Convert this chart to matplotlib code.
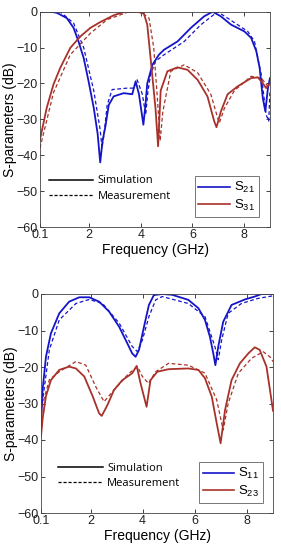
import matplotlib
matplotlib.use('Agg')
import matplotlib.pyplot as plt
from matplotlib.lines import Line2D

plt.rcParams['font.family'] = ['Liberation Sans', 'DejaVu Sans']
plt.rcParams['mathtext.fontset'] = 'custom'
plt.rcParams['mathtext.rm'] = 'Liberation Sans'
plt.rcParams['mathtext.it'] = 'Liberation Sans'

BLUE = '#1414c8'
RED = '#a8322a'

# ---- top panel: S21 / S31 ----
s21_sim_f = [0.1, 0.5, 0.75, 1.14, 1.4, 1.59, 1.79, 1.98, 2.18, 2.33, 2.43, 2.52, 2.63, 2.76, 2.95,
             3.34, 3.67, 3.8, 3.93, 4.03, 4.1, 4.18, 4.25, 4.45, 4.7, 4.9, 5.42, 5.94, 6.45, 6.78,
             7.1, 7.49, 8.01, 8.27, 8.47, 8.6, 8.72, 8.82, 8.92, 9.0]
s21_sim_db = [0, 0, -0.3, -1.8, -4.5, -8.3, -12.9, -19.4, -26.8, -34, -42, -36, -32, -26, -23.6,
              -22.7, -23, -19.4, -23, -28, -31.5, -26, -20, -14.8, -12, -10.6, -8.3, -4.5, -1.3, 0,
              -1.3, -3.6, -5.5, -7.3, -11, -15.7, -24, -27.8, -21.3, -18.5]
s21_meas_f = [0.1, 0.5, 0.88, 1.4, 1.79, 2.18, 2.43, 2.5, 2.58, 2.7, 2.89, 3.47, 3.73, 3.86, 4.06,
              4.19, 4.28, 4.38, 4.57, 4.9, 5.68, 6.33, 6.97, 7.36, 8.14, 8.4, 8.66, 8.85, 8.95, 9.0]
s21_meas_db = [0, 0, 0, -3.2, -10, -22, -33, -38, -34, -26, -21.7, -21.3, -21.3, -19, -23,
               -28.7, -22, -17.5, -13.8, -12, -8.3, -3.6, 0, -1.8, -5.5, -8.3, -17.5, -28.7, -30.5, -22]

s31_sim_f = [0.1, 0.36, 0.62, 0.88, 1.27, 1.66, 2.05, 2.43, 2.95, 3.34, 3.86, 4.12, 4.25, 4.38, 4.57,
             4.67, 4.77, 5.03, 5.42, 5.81, 6.2, 6.58, 6.84, 6.93, 7.1, 7.36, 7.75, 8.27, 8.53, 8.72,
             8.85, 9.0]
s31_sim_db = [-35.6, -26.8, -20.3, -15.7, -10.1, -6.9, -4.5, -2.9, -1, -0.1, 0, -0.5, -3.6, -13, -27,
              -37.5, -22, -16.6, -15.5, -16.2, -19, -23.6, -30.5, -32.2, -27.8, -23, -20.8, -18.5, -18.3, -19.9,
              -21.3, -19.9]
s31_meas_f = [0.1, 0.62, 1.27, 2.05, 2.7, 3.47, 3.99, 4.32, 4.5, 4.65, 4.75, 4.85, 5.16, 5.68, 6.2,
              6.71, 6.95, 7.04, 7.23, 7.62, 8.27, 8.66, 8.92, 9.0]
s31_meas_db = [-38, -22.6, -12, -6, -2.2, -0.2, 0, -1.8, -10, -25, -36, -28, -16.6, -14.8, -17,
               -23, -29, -31, -27, -22, -18, -18.5, -20.8, -20.5]

# ---- bottom panel: S11 / S23 ----
s11_sim_f = [0.1, 0.165, 0.29, 0.48, 0.8, 1.18, 1.57, 1.95, 2.33, 2.71, 3.1, 3.41, 3.6, 3.73, 3.86,
             4.05, 4.24, 4.43, 4.75, 5.12, 5.75, 6.14, 6.39, 6.58, 6.71, 6.79, 6.9, 7.09, 7.41, 7.92,
             8.3, 8.56, 9.0]
s11_sim_db = [-32, -26, -17.2, -10.8, -5.3, -2.1, -0.9, -0.9, -2.1, -4.8, -9, -13.5, -16.3, -17.2, -15.3,
              -9, -3, -0.3, 0, -0.2, -1.6, -3.9, -7.1, -11.7, -16.3, -19.5, -14.4, -7.6, -3, -1.5,
              -0.7, 0, 0]
s11_meas_f = [0.1, 0.165, 0.42, 0.8, 1.44, 1.95, 2.46, 3.1, 3.6, 3.8, 3.99, 4.24, 4.5, 4.75, 5.75,
              6.39, 6.77, 6.9, 7.03, 7.28, 7.79, 8.43, 9.0]
s11_meas_db = [-35, -29, -15.3, -7.1, -2.6, -1.5, -2.6, -8, -14.4, -15.8, -12.6, -6.2, -1.6, -0.7, -2.6,
               -6.2, -14.4, -18, -12.6, -5.3, -2.6, -1.2, -0.5]

s23_sim_f = [0.1, 0.165, 0.29, 0.48, 0.8, 1.18, 1.44, 1.76, 2.08, 2.33, 2.43, 2.65, 2.9, 3.22, 3.6,
             3.77, 3.92, 4.15, 4.3, 4.56, 4.99, 5.75, 6.14, 6.39, 6.65, 6.84, 6.99, 7.16, 7.41, 7.73,
             8.05, 8.3, 8.49, 8.75, 8.94, 9.0]
s23_sim_db = [-39, -34, -28, -23.6, -20.8, -19.9, -20.4, -22.6, -28, -32.7, -33.4, -30.4, -26.3, -23.6, -21.7,
              -19.7, -24.5, -30.9, -23.6, -21.3, -20.6, -20.4, -20.8, -23.1, -28.1, -35.4, -40.9, -31.8, -23.6, -19,
              -16.3, -14.6, -15.3, -19.9, -29, -32]
s23_meas_f = [0.1, 0.165, 0.42, 0.8, 1.44, 1.82, 2.2, 2.52, 2.9, 3.48, 3.8, 3.99, 4.22, 4.5, 4.99,
              5.75, 6.39, 6.84, 7.09, 7.28, 7.67, 8.18, 8.62, 8.88, 9.0]
s23_meas_db = [-36, -30, -23.5, -21.3, -18.5, -19.5, -25.4, -29.5, -26.3, -21.7, -19.9, -22.6, -24.5, -21.3, -19,
               -19.5, -21.7, -29, -37.3, -30, -21.7, -17.6, -15.8, -17.2, -18.5]

xticks = [0.1, 2, 4, 6, 8]
xticklabels = ['0.1', '2', '4', '6', '8']
yticks = [0, -10, -20, -30, -40, -50, -60]

fig = plt.figure(figsize=(2.81, 5.5), dpi=100)
ax1 = fig.add_axes([40 / 281, 1 - 227 / 550, 230 / 281, 215.3 / 550])
ax2 = fig.add_axes([41 / 281, 1 - 513 / 550, 232 / 281, 219 / 550])


def style(ax):
    ax.set_xlim(0.1, 9)
    ax.set_ylim(-60, 0)
    ax.set_xticks(xticks)
    ax.set_xticklabels(xticklabels)
    ax.set_yticks(yticks)
    ax.tick_params(direction='in', top=True, right=True, length=3, width=0.6,
                   labelsize=9, pad=1.5, colors='#222222')
    for sp in ax.spines.values():
        sp.set_linewidth(0.6)
        sp.set_color('#444444')
    ax.set_xlabel('Frequency (GHz)', fontsize=10, labelpad=1.5)
    ax.set_ylabel('S-parameters (dB)', fontsize=10, labelpad=0)


def legends(ax, names, anchor1, anchor2):
    h1 = [Line2D([], [], color=BLUE, lw=1.2), Line2D([], [], color=RED, lw=1.2)]
    leg1 = ax.legend(h1, names, loc='lower right', bbox_to_anchor=anchor1, fontsize=9.5,
                     frameon=True, fancybox=False, edgecolor='#555555', handlelength=2.4,
                     handletextpad=0.3, borderpad=0.3, labelspacing=0.2, borderaxespad=0)
    leg1.get_frame().set_linewidth(0.7)
    ax.add_artist(leg1)
    h2 = [Line2D([], [], color='black', lw=1.1),
          Line2D([], [], color='black', lw=0.9, ls=(0, (2.5, 1.5)))]
    ax.legend(h2, ['Simulation', 'Measurement'], loc='upper left', bbox_to_anchor=anchor2,
              frameon=False, handlelength=4.0, handletextpad=0.4,
              labelspacing=0.4, borderaxespad=0, prop={'family': 'Open Sans', 'size': 8})


ax1.plot(s21_meas_f, s21_meas_db, color=BLUE, lw=0.9, ls=(0, (3, 2)))
ax1.plot(s31_meas_f, s31_meas_db, color=RED, lw=0.9, ls=(0, (3, 2)))
ax1.plot(s21_sim_f, s21_sim_db, color=BLUE, lw=1.3)
ax1.plot(s31_sim_f, s31_sim_db, color=RED, lw=1.3)
style(ax1)
legends(ax1, ['S$_{21}$', 'S$_{31}$'], (0.952, 0.046), (0.02, 0.26))

ax2.plot(s11_meas_f, s11_meas_db, color=BLUE, lw=0.9, ls=(0, (3, 2)))
ax2.plot(s23_meas_f, s23_meas_db, color=RED, lw=0.9, ls=(0, (3, 2)))
ax2.plot(s11_sim_f, s11_sim_db, color=BLUE, lw=1.3)
ax2.plot(s23_sim_f, s23_sim_db, color=RED, lw=1.3)
style(ax2)
legends(ax2, ['S$_{11}$', 'S$_{23}$'], (0.957, 0.046), (0.055, 0.25))

fig.savefig('out.png', dpi=100)
